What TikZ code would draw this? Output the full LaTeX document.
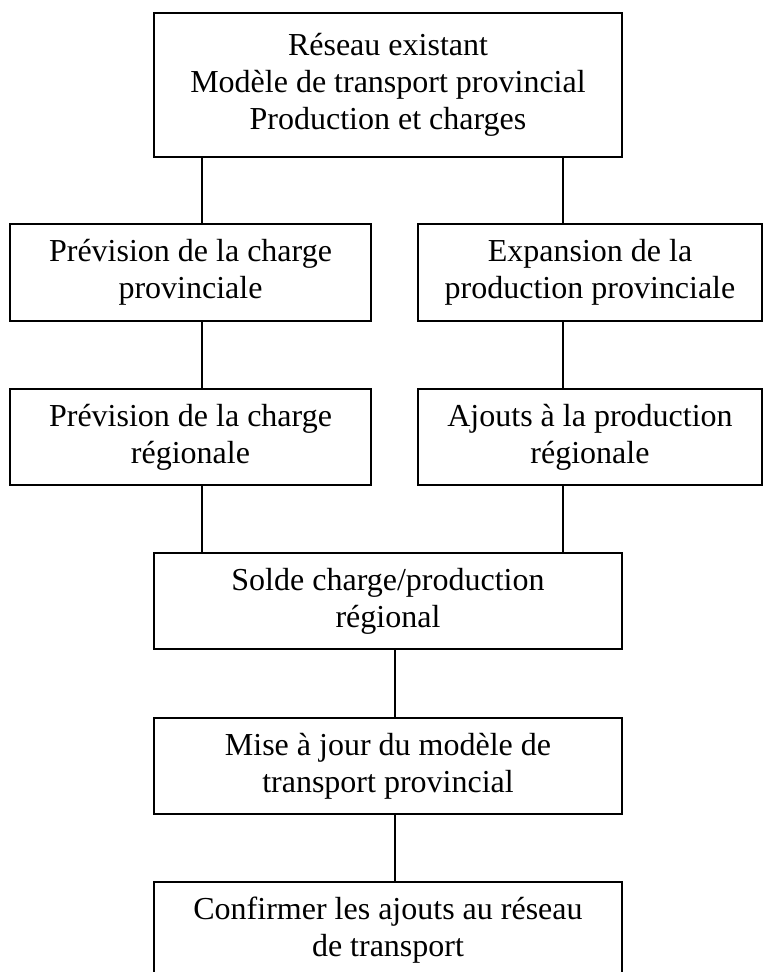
\documentclass[tikz,border=0pt]{standalone}
\usepackage{fontspec}
\setmainfont{Liberation Serif}
\usepackage{tikz}

\tikzset{
  stepbox/.style={draw, line width=0.7pt, align=center, inner sep=0pt,
    font=\fontsize{16}{18.4}\selectfont},
  wide/.style={stepbox, minimum width=234pt},
  halfl/.style={stepbox, minimum width=180.5pt, minimum height=48.5pt},
  halfr/.style={stepbox, minimum width=172pt, minimum height=48.5pt},
  link/.style={line width=0.7pt}
}

\begin{document}
\begin{tikzpicture}[x=0.5pt,y=-0.5pt]
  \useasboundingbox (0,0) rectangle (766,972);
  % boxes
  \node[wide, minimum height=72pt] (base) at (388,85)
    {Réseau existant\\Modèle de transport provincial\\Production et charges};
  \node[halfl] (lprov) at (190.5,272.5) {Prévision de la charge\\provinciale};
  \node[halfr] (pprov) at (590,272.5) {Expansion de la\\production provinciale};
  \node[halfl, minimum height=48pt] (lreg) at (190.5,437) {Prévision de la charge\\régionale};
  \node[halfr, minimum height=48pt] (preg) at (590,437) {Ajouts à la production\\régionale};
  \node[wide, minimum height=48pt] (solde) at (388,601) {Solde charge/production\\régional};
  \node[wide, minimum height=48pt] (maj) at (388,766) {Mise à jour du modèle de\\transport provincial};
  \node[wide, minimum height=48pt] (conf) at (388,930) {Confirmer les ajouts au réseau\\de transport};
  % connector columns
  \coordinate (lx) at (202,0);
  \coordinate (rx) at (563,0);
  \coordinate (mx) at (395,0);
  % connectors
  \draw[link] (base.south -| lx) -- (lprov.north -| lx);
  \draw[link] (base.south -| rx) -- (pprov.north -| rx);
  \draw[link] (lprov.south -| lx) -- (lreg.north -| lx);
  \draw[link] (pprov.south -| rx) -- (preg.north -| rx);
  \draw[link] (lreg.south -| lx) -- (solde.north -| lx);
  \draw[link] (preg.south -| rx) -- (solde.north -| rx);
  \draw[link] (solde.south -| mx) -- (maj.north -| mx);
  \draw[link] (maj.south -| mx) -- (conf.north -| mx);
\end{tikzpicture}
\end{document}
